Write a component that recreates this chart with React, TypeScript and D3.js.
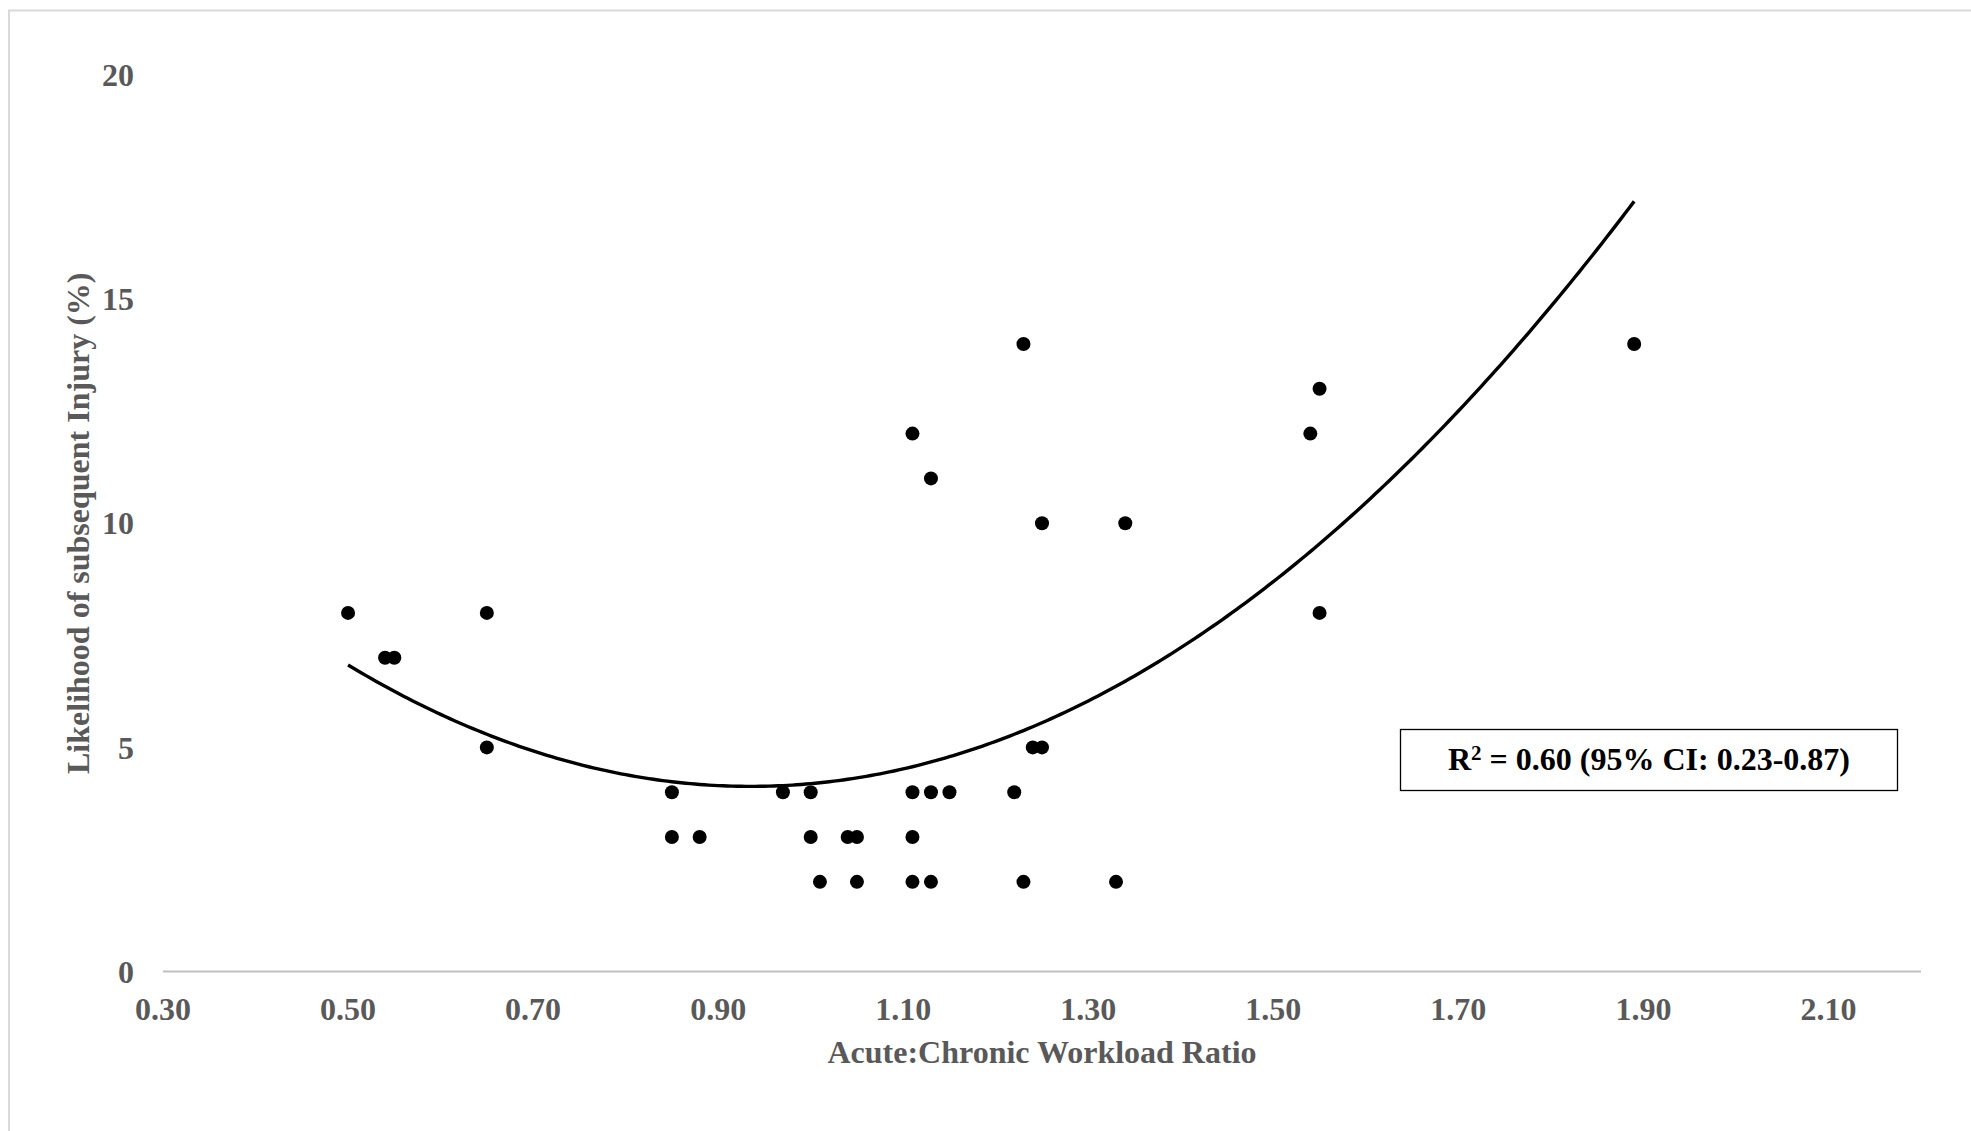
import React from "react";
import * as d3 from "d3";

// ---- Data ----
const acwr: number[] = [
  0.5, 0.54, 0.55, 0.65, 0.65, 0.85, 0.85, 0.88, 0.97, 1.0, 1.0, 1.01, 1.04, 1.05, 1.05,
  1.11, 1.11, 1.11, 1.11, 1.13, 1.13, 1.13, 1.15, 1.22, 1.23, 1.23, 1.24, 1.25, 1.25,
  1.33, 1.34, 1.54, 1.55, 1.55, 1.89,
];
const injuryLikelihood: number[] = [
  8, 7, 7, 8, 5, 4, 3, 3, 4, 4, 3, 2, 3, 3, 2,
  12, 4, 3, 2, 11, 4, 2, 4, 4, 14, 2, 5, 5, 10,
  2, 10, 12, 13, 8, 14,
];
const xTicks: number[] = [0.3, 0.5, 0.7, 0.9, 1.1, 1.3, 1.5, 1.7, 1.9, 2.1];
const yTicks: number[] = [0, 5, 10, 15, 20];
// 2nd-order polynomial trendline (vertex form) as drawn in the reference
const trendA = 14.31;
const trendH = 0.935;
const trendK = 4.13;
const trendRange: [number, number] = [0.5, 1.89];
const xTitle = "Acute:Chronic Workload Ratio";
const yTitle = "Likelihood of subsequent Injury (%)";
const r2Base = "R";
const r2Sup = "2";
const r2Rest = " = 0.60 (95% CI: 0.23-0.87)";

const W = 1971;
const H = 1131;
const FONT = "'Liberation Serif', 'Times New Roman', Times, serif";
const GRAY = "#595959";

export default function App() {
  const x = d3.scaleLinear().domain([0.3, 2.2]).range([163, 1921]);
  const y = d3.scaleLinear().domain([0, 20]).range([971.5, 75]);

  const trendPts = d3
    .range(trendRange[0], trendRange[1] + 1e-9, 0.005)
    .map((v) => [v, trendA * (v - trendH) * (v - trendH) + trendK] as [number, number]);
  const line = d3
    .line<[number, number]>()
    .x((d) => x(d[0]))
    .y((d) => y(d[1]));

  const points = acwr.map((v, i) => ({ x: v, y: injuryLikelihood[i] }));

  return (
    <svg
      width={W}
      height={H}
      style={{ position: "fixed", left: 0, top: 0, background: "#fff", display: "block" }}
      fontFamily={FONT}
      fontWeight="bold"
    >
      <rect x={0} y={0} width={W} height={H} fill="#fff" />
      {/* chart border (extends past the picture on right/bottom) */}
      <rect x={9} y={10.5} width={W + 20} height={H + 20} fill="none" stroke="#D9D9D9" strokeWidth={2} />

      {/* x axis line */}
      <line x1={x(0.3)} x2={x(2.2)} y1={y(0)} y2={y(0)} stroke="#BFBFBF" strokeWidth={2} />

      {/* y tick labels */}
      {yTicks.map((t) => (
        <text key={"y" + t} x={134} y={y(t)} dy="0.35em" textAnchor="end" fontSize={32} fill={GRAY}>
          {t}
        </text>
      ))}

      {/* x tick labels */}
      {xTicks.map((t) => (
        <text key={"x" + t} x={x(t)} y={1020} textAnchor="middle" fontSize={32} fill={GRAY}>
          {d3.format(".2f")(t)}
        </text>
      ))}

      {/* axis titles */}
      <text x={(x(0.3) + x(2.2)) / 2} y={1063} textAnchor="middle" fontSize={32} fill={GRAY}>
        {xTitle}
      </text>
      <text
        transform={`translate(89, ${(y(0) + y(20)) / 2}) rotate(-90)`}
        textAnchor="middle"
        fontSize={32}
        fill={GRAY}
      >
        {yTitle}
      </text>

      {/* trendline */}
      <path d={line(trendPts) || ""} fill="none" stroke="#000" strokeWidth={3.4} />

      {/* points */}
      {points.map((p, i) => (
        <circle key={i} cx={x(p.x)} cy={y(p.y)} r={7} fill="#000" />
      ))}

      {/* R² box */}
      <rect x={1400.5} y={729.5} width={497} height={61} fill="#fff" stroke="#000" strokeWidth={1.3} />
      <text x={1649} y={770} textAnchor="middle" fontSize={32} fill="#000">
        {r2Base}
        <tspan fontSize={21} dy={-10}>
          {r2Sup}
        </tspan>
        <tspan dy={10}>{r2Rest}</tspan>
      </text>
    </svg>
  );
}
